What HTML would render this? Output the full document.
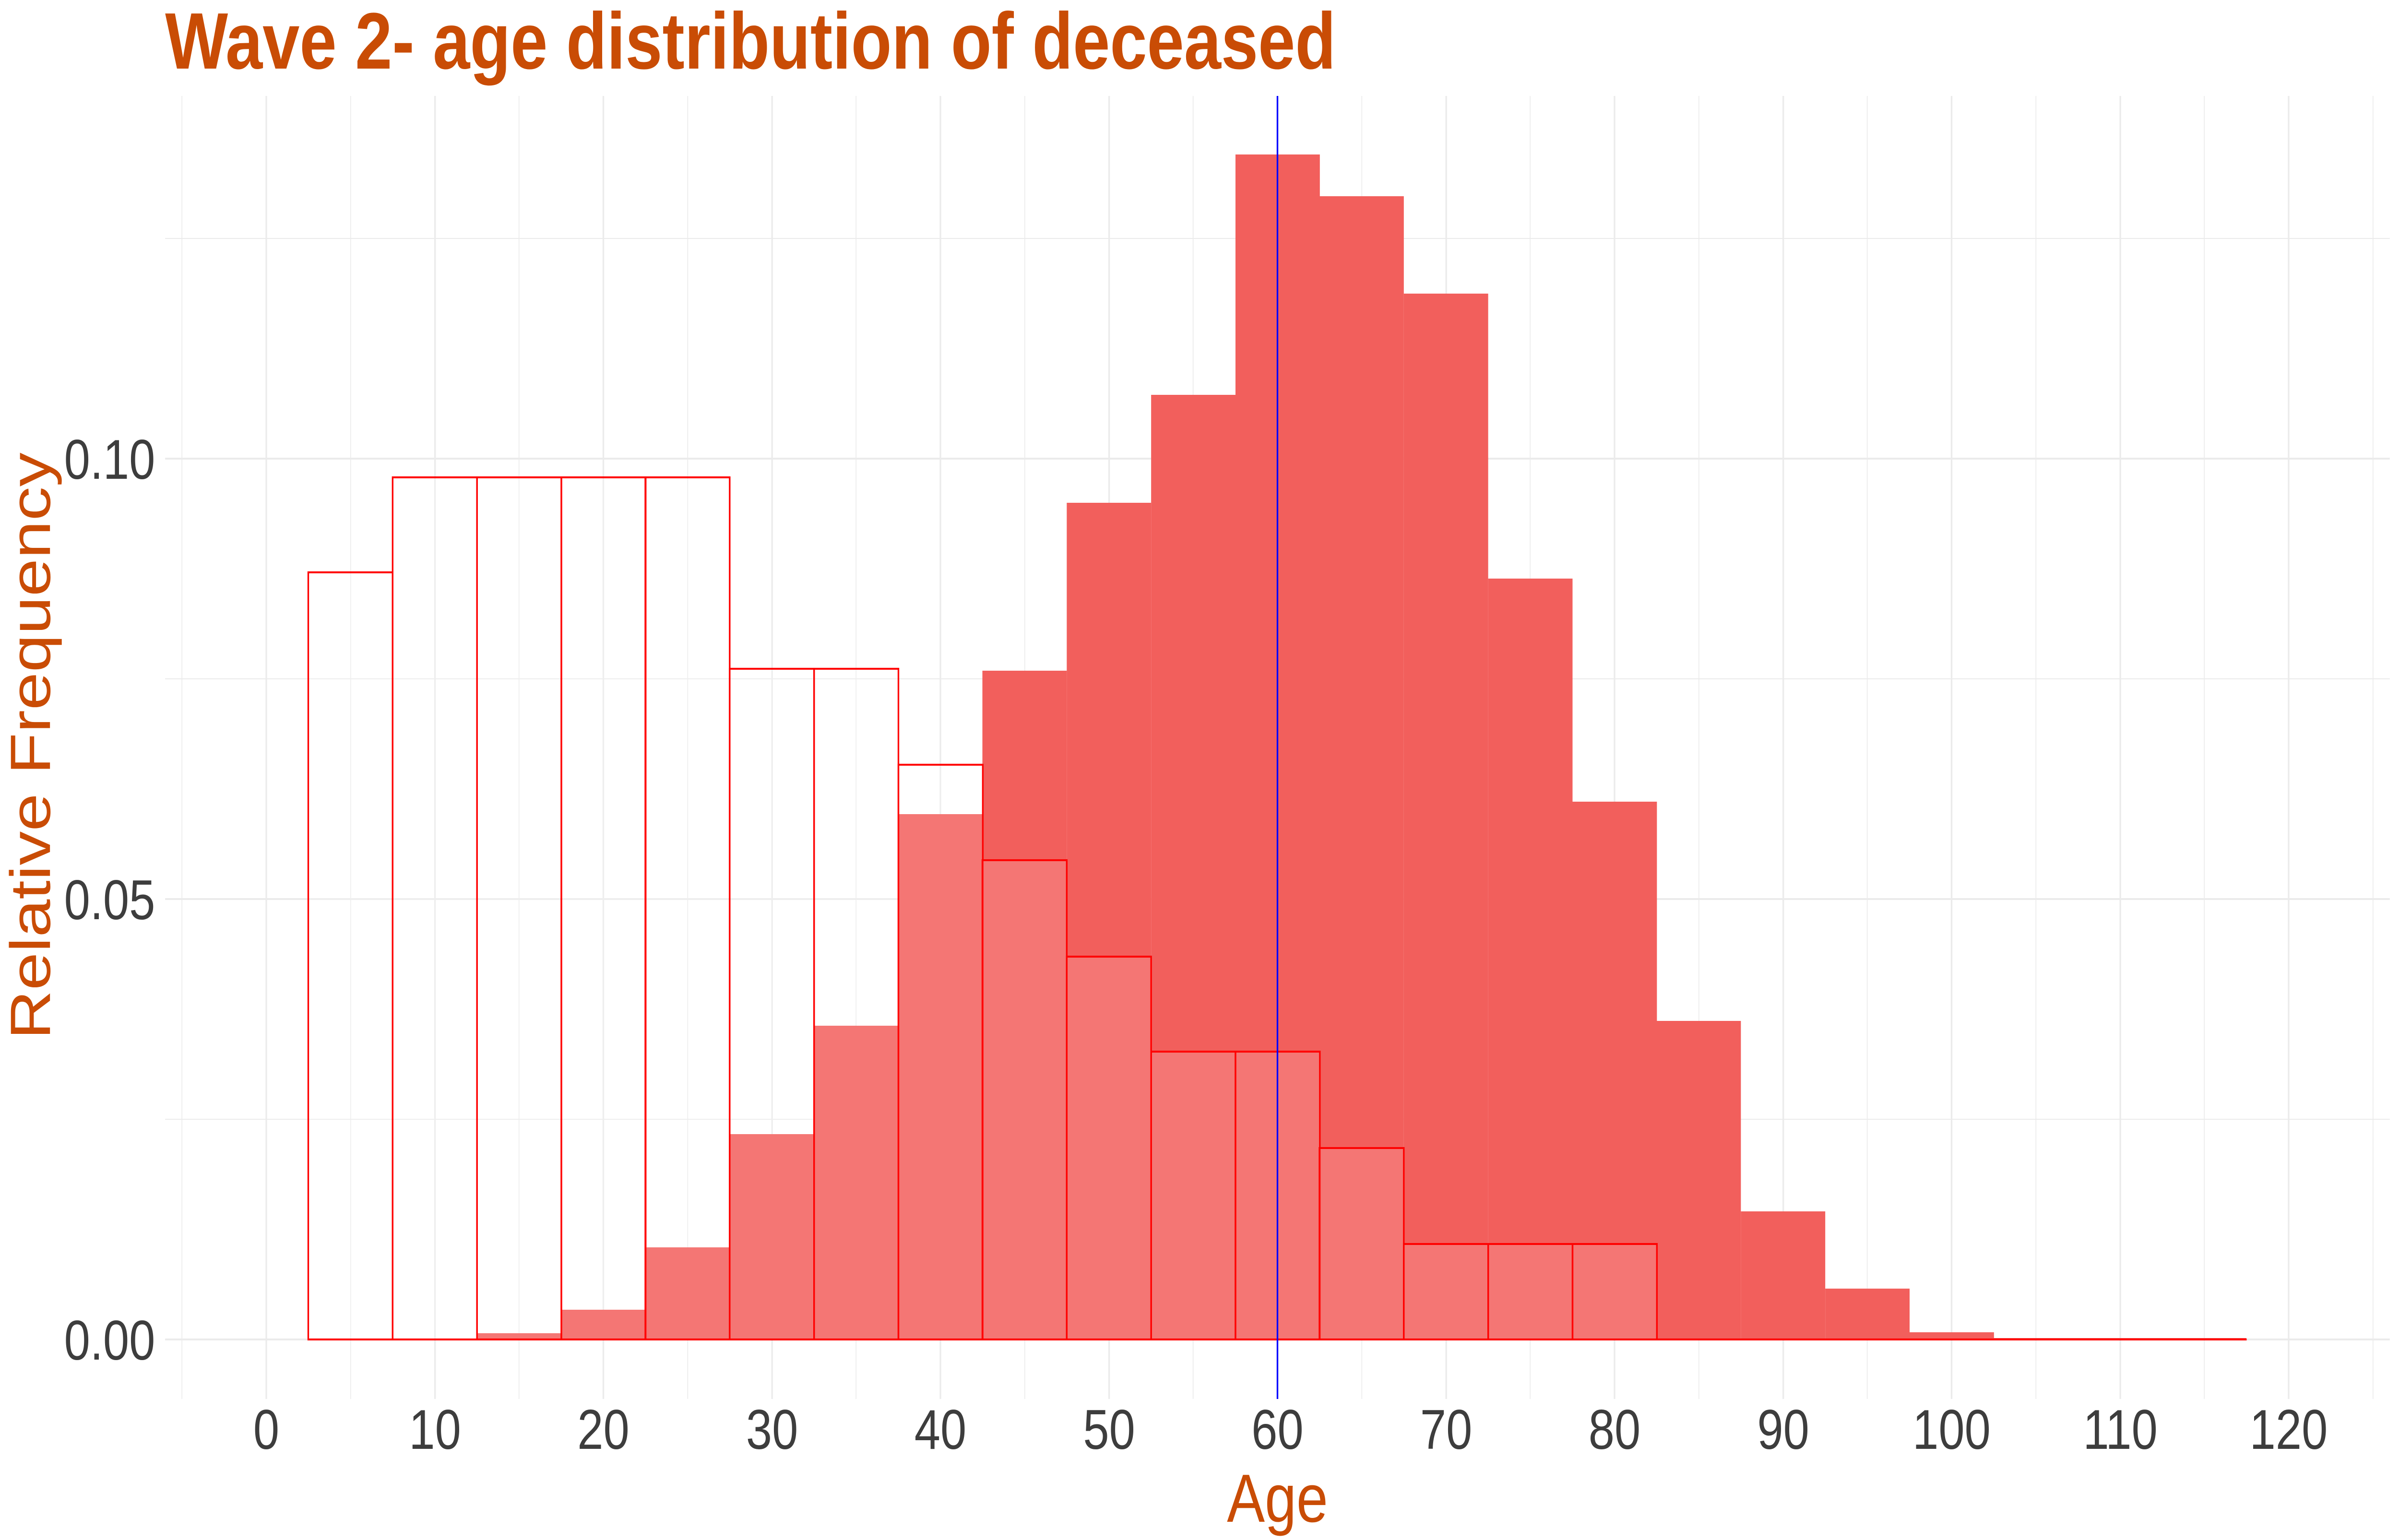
<!DOCTYPE html>
<html><head><meta charset="utf-8"><style>
html,body{margin:0;padding:0;background:#fff;width:100%;height:100%;overflow:hidden;}
svg{display:block;position:fixed;left:0;top:0;width:100vw;height:100vh;}
</style></head><body>
<svg viewBox="0 0 6000 3210" preserveAspectRatio="none" xmlns="http://www.w3.org/2000/svg" font-family="Liberation Sans, Arial, sans-serif">
<rect width="6000" height="3210" fill="#fff"/>
<g stroke="#EBEBEB" stroke-width="2">
<line x1="413" x2="5977" y1="2333" y2="2333"/>
<line x1="413" x2="5977" y1="1415" y2="1415"/>
<line x1="413" x2="5977" y1="497" y2="497"/>
<line x1="455" x2="455" y1="200" y2="2916"/>
<line x1="877" x2="877" y1="200" y2="2916"/>
<line x1="1298" x2="1298" y1="200" y2="2916"/>
<line x1="1720" x2="1720" y1="200" y2="2916"/>
<line x1="2141" x2="2141" y1="200" y2="2916"/>
<line x1="2563" x2="2563" y1="200" y2="2916"/>
<line x1="2984" x2="2984" y1="200" y2="2916"/>
<line x1="3406" x2="3406" y1="200" y2="2916"/>
<line x1="3827" x2="3827" y1="200" y2="2916"/>
<line x1="4249" x2="4249" y1="200" y2="2916"/>
<line x1="4670" x2="4670" y1="200" y2="2916"/>
<line x1="5092" x2="5092" y1="200" y2="2916"/>
<line x1="5513" x2="5513" y1="200" y2="2916"/>
<line x1="5935" x2="5935" y1="200" y2="2916"/>
</g>
<g stroke="#EBEBEB" stroke-width="4">
<line x1="413" x2="5977" y1="2792" y2="2792"/>
<line x1="413" x2="5977" y1="1874" y2="1874"/>
<line x1="413" x2="5977" y1="956" y2="956"/>
<line x1="666" x2="666" y1="200" y2="2916"/>
<line x1="1088" x2="1088" y1="200" y2="2916"/>
<line x1="1509" x2="1509" y1="200" y2="2916"/>
<line x1="1931" x2="1931" y1="200" y2="2916"/>
<line x1="2352" x2="2352" y1="200" y2="2916"/>
<line x1="2774" x2="2774" y1="200" y2="2916"/>
<line x1="3195" x2="3195" y1="200" y2="2916"/>
<line x1="3617" x2="3617" y1="200" y2="2916"/>
<line x1="4038" x2="4038" y1="200" y2="2916"/>
<line x1="4460" x2="4460" y1="200" y2="2916"/>
<line x1="4881" x2="4881" y1="200" y2="2916"/>
<line x1="5303" x2="5303" y1="200" y2="2916"/>
<line x1="5724" x2="5724" y1="200" y2="2916"/>
</g>
<g fill="#F25F5C">
<rect x="1193" y="2779" width="211" height="13"/>
<rect x="1404" y="2730" width="211" height="62"/>
<rect x="1614" y="2600" width="211" height="192"/>
<rect x="1825" y="2364" width="211" height="428"/>
<rect x="2036" y="2138" width="211" height="654"/>
<rect x="2247" y="1697" width="211" height="1095"/>
<rect x="2457" y="1398" width="211" height="1394"/>
<rect x="2668" y="1048" width="211" height="1744"/>
<rect x="2879" y="823" width="211" height="1969"/>
<rect x="3090" y="322" width="211" height="2470"/>
<rect x="3300" y="409" width="211" height="2383"/>
<rect x="3511" y="612" width="211" height="2180"/>
<rect x="3722" y="1206" width="211" height="1586"/>
<rect x="3933" y="1671" width="211" height="1121"/>
<rect x="4143" y="2128" width="211" height="664"/>
<rect x="4354" y="2525" width="211" height="267"/>
<rect x="4565" y="2686" width="211" height="106"/>
<rect x="4776" y="2777" width="211" height="15"/>
<rect x="4986" y="2789" width="632" height="3"/>
</g>
<g fill="#fff" fill-opacity="0.15" stroke="#FF0000" stroke-width="4">
<rect x="771" y="1193" width="211" height="1599"/>
<rect x="982" y="995" width="211" height="1797"/>
<rect x="1193" y="995" width="211" height="1797"/>
<rect x="1404" y="995" width="211" height="1797"/>
<rect x="1614" y="995" width="211" height="1797"/>
<rect x="1825" y="1394" width="211" height="1398"/>
<rect x="2036" y="1394" width="211" height="1398"/>
<rect x="2247" y="1594" width="211" height="1198"/>
<rect x="2457" y="1793" width="211" height="999"/>
<rect x="2668" y="1994" width="211" height="798"/>
<rect x="2879" y="2192" width="211" height="600"/>
<rect x="3090" y="2192" width="211" height="600"/>
<rect x="3300" y="2393" width="211" height="399"/>
<rect x="3511" y="2593" width="211" height="199"/>
<rect x="3722" y="2593" width="211" height="199"/>
<rect x="3933" y="2593" width="211" height="199"/>
</g>
<line x1="4144" x2="5619" y1="2792" y2="2792" stroke="#FF0000" stroke-width="4"/>
<line x1="3195" x2="3195" y1="200" y2="2916" stroke="#0000FF" stroke-width="4"/>
<g fill="#3D3D3D" font-size="117" text-anchor="end">
<text x="388" y="2834">0.00</text>
<text x="388" y="1916">0.05</text>
<text x="388" y="998">0.10</text>
</g>
<g fill="#3D3D3D" font-size="117" text-anchor="middle">
<text x="666" y="3020">0</text>
<text x="1088" y="3020">10</text>
<text x="1509" y="3020">20</text>
<text x="1931" y="3020">30</text>
<text x="2352" y="3020">40</text>
<text x="2774" y="3020">50</text>
<text x="3195" y="3020">60</text>
<text x="3617" y="3020">70</text>
<text x="4038" y="3020">80</text>
<text x="4460" y="3020">90</text>
<text x="4881" y="3020">100</text>
<text x="5303" y="3020">110</text>
<text x="5724" y="3020">120</text>
</g>
<text x="3195" y="3172" fill="#C94C05" font-size="142" text-anchor="middle">Age</text>
<text transform="translate(125,1555) rotate(-90)" fill="#C94C05" font-size="142" text-anchor="middle">Relative Frequency</text>
<text x="413" y="143" fill="#C94C05" font-size="167" font-weight="bold" textLength="2928" lengthAdjust="spacingAndGlyphs">Wave 2- age distribution of deceased</text>
</svg>
</body></html>
